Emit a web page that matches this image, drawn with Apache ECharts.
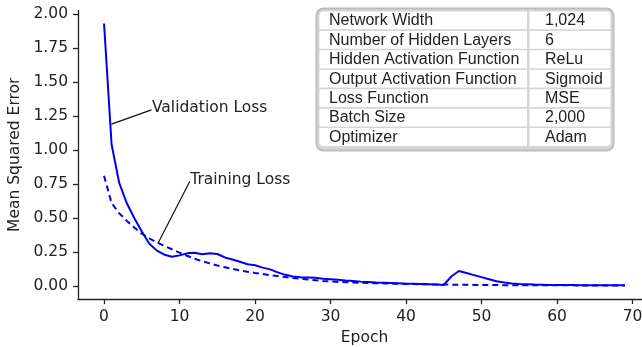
<!DOCTYPE html>
<html><head><meta charset="utf-8">
<script src="https://cdn.jsdelivr.net/npm/echarts@6/dist/echarts.min.js"></script>
<style>html,body{margin:0;padding:0;background:#fff}#c{width:642px;height:347px}</style>
</head><body><div id="c"></div><script>
const epochs = [0,1,2,3,4,5,6,7,8,9,10,11,12,13,14,15,16,17,18,19,20,21,22,23,24,25,26,27,28,29,30,31,32,33,34,35,36,37,38,39,40,41,42,43,44,45,46,47,48,49,50,51,52,53,54,55,56,57,58,59,60,61,62,63,64,65,66,67,68,69];
const validationLoss = [1.93,1.04,0.76,0.61,0.50,0.40,0.31,0.26,0.23,0.215,0.225,0.24,0.245,0.233,0.24,0.235,0.21,0.195,0.178,0.16,0.152,0.135,0.122,0.10,0.082,0.07,0.065,0.063,0.06,0.053,0.05,0.045,0.04,0.036,0.032,0.029,0.026,0.024,0.022,0.02,0.017,0.016,0.014,0.012,0.01,0.008,0.07,0.11,0.095,0.08,0.065,0.05,0.035,0.025,0.018,0.014,0.012,0.01,0.009,0.008,0.008,0.007,0.007,0.006,0.006,0.006,0.005,0.005,0.005,0.005];
const trainingLoss = [0.81,0.61,0.535,0.48,0.43,0.385,0.35,0.32,0.294,0.27,0.245,0.222,0.2,0.182,0.166,0.15,0.138,0.126,0.115,0.105,0.096,0.088,0.08,0.073,0.066,0.059,0.053,0.047,0.042,0.037,0.033,0.03,0.028,0.026,0.024,0.022,0.02,0.019,0.017,0.016,0.015,0.014,0.013,0.012,0.011,0.01,0.01,0.009,0.009,0.008,0.007,0.007,0.007,0.006,0.006,0.006,0.006,0.005,0.005,0.005,0.005,0.005,0.005,0.004,0.004,0.004,0.004,0.004,0.004,0.004];
const xTicks = [0,10,20,30,40,50,60,70];
const yTicks = [0,0.25,0.5,0.75,1,1.25,1.5,1.75,2];
const tableLabels = ['Network Width','Number of Hidden Layers','Hidden Activation Function','Output Activation Function','Loss Function','Batch Size','Optimizer'];
const tableValues = ['1,024','6','ReLu','Sigmoid','MSE','2,000','Adam'];
const annotations = [
  {text:'Validation Loss', from:[0.98,1.19], to:[6.28,1.295]},
  {text:'Training Loss', from:[7.15,0.314], to:[11.35,0.768]}
];

const FONT = 'DejaVu Sans';
const ink = '#222';
const chart = echarts.init(document.getElementById('c'), null, {renderer:'canvas'});
const axisCommon = {
  axisLine:{show:true, onZero:false, lineStyle:{color:'#222', width:1.3}},
  axisTick:{show:true, inside:false, length:5, lineStyle:{color:'#222', width:1.3}},
  splitLine:{show:false},
  nameTextStyle:{color:ink, fontFamily:FONT, fontSize:15.5},
};
chart.setOption({
  animation:false,
  backgroundColor:'#fff',
  grid:{left:78, top:10.4, width:573, height:288.7, containLabel:false, outerBoundsMode:'none'},
  xAxis:Object.assign({}, axisCommon, {
    type:'value', min:-3.45, max:72.45, name:'Epoch', nameLocation:'middle', nameGap:30,
    axisTick:Object.assign({}, axisCommon.axisTick, {customValues:xTicks}),
    axisLabel:{customValues:xTicks, color:ink, fontFamily:FONT, fontSize:15.5, margin:10, formatter:v=>String(v)}
  }),
  yAxis:Object.assign({}, axisCommon, {
    type:'value', min:-0.0965, max:2.0265, name:'Mean Squared Error', nameLocation:'middle', nameGap:49,
    axisTick:Object.assign({}, axisCommon.axisTick, {customValues:yTicks}),
    axisLabel:{customValues:yTicks, color:ink, fontFamily:FONT, fontSize:15.5, margin:10, formatter:v=>v.toFixed(2)}
  }),
  series:[
    {type:'line', name:'Validation Loss', data:epochs.map((e,i)=>[e,validationLoss[i]]), showSymbol:false, symbol:'none',
     lineStyle:{color:'#0000ee', width:2}, clip:false},
    {type:'line', name:'Training Loss', data:epochs.map((e,i)=>[e,trainingLoss[i]]), showSymbol:false, symbol:'none',
     lineStyle:{color:'#0000ee', width:2, type:[6,4]}, clip:false}
  ]
});

const g = [];
annotations.forEach(a=>{
  const p1 = chart.convertToPixel({gridIndex:0}, a.from);
  const p2 = chart.convertToPixel({gridIndex:0}, a.to);
  g.push({type:'line', shape:{x1:p1[0],y1:p1[1],x2:p2[0],y2:p2[1]}, style:{stroke:'#111', lineWidth:1.2}, z:10});
  g.push({type:'text', x:p2[0]+0.5, y:p2[1]-2, style:{text:a.text, fill:ink, font:'15.5px "DejaVu Sans"', textAlign:'left', textVerticalAlign:'middle'}, z:10});
});
const tx=316.5, ty=8.5, tw=297, th=142;
g.push({type:'rect', shape:{x:tx,y:ty,width:tw,height:th,r:7}, style:{fill:'#d6d6d6', stroke:'#bdbdbd', lineWidth:2}, z:20});
const rowH = (th-6)/tableLabels.length;
const c1x = tx+3, c1w = 527-c1x, c2x = 529.5, c2w = tx+tw-3-c2x;
tableLabels.forEach((lab,i)=>{
  const y0 = ty+3+i*rowH;
  g.push({type:'rect', shape:{x:c1x,y:y0,width:c1w,height:rowH-1.6,r:(i===0?[4,0,0,0]:(i===tableLabels.length-1?[0,0,0,4]:0))}, style:{fill:'#fff'}, z:21});
  g.push({type:'rect', shape:{x:c2x,y:y0,width:c2w,height:rowH-1.6,r:(i===0?[0,4,0,0]:(i===tableLabels.length-1?[0,0,4,0]:0))}, style:{fill:'#fff'}, z:21});
  g.push({type:'text', x:329, y:y0+(rowH-1.6)/2+0.5, style:{text:lab, fill:ink, font:'16px "Liberation Sans"', textVerticalAlign:'middle'}, z:22});
  g.push({type:'text', x:545, y:y0+(rowH-1.6)/2+0.5, style:{text:tableValues[i], fill:ink, font:'16px "Liberation Sans"', textVerticalAlign:'middle'}, z:22});
});
chart.setOption({graphic:g});
</script></body></html>
